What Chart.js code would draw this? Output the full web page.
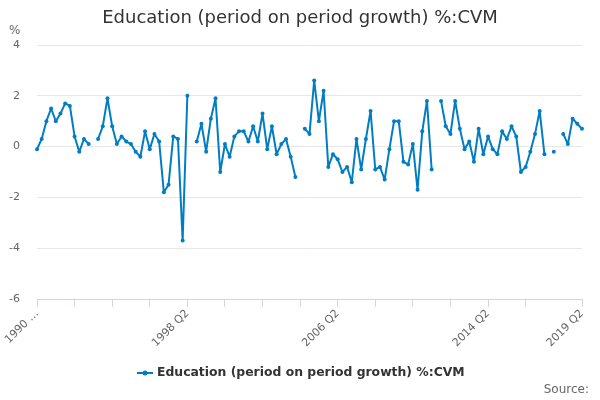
<!DOCTYPE html>
<html>
<head>
<meta charset="utf-8">
<script src="https://cdn.jsdelivr.net/npm/chart.js@4/dist/chart.umd.min.js"></script>
<style>
  html, body { margin: 0; padding: 0; background: #fff; }
  canvas { display: block; }
</style>
</head>
<body>
<canvas id="chart" width="600" height="400"></canvas>
<script>
// quarterly categories, 1990 Q2 .. 2019 Q2
const quarters = [];
for (let y = 1990, q = 2; y < 2019 || (y === 2019 && q <= 2); ) {
  quarters.push(y + ' Q' + q);
  q++;
  if (q > 4) { q = 1; y++; }
}

// null = no value published
const growth = [
  -0.1, 0.3, 1.0, 1.5, 1.0, 1.3, 1.7, 1.6, 0.4, -0.2, 0.3, 0.1, null,
  0.3, 0.8, 1.9, 0.8, 0.1, 0.4, 0.2, 0.1, -0.2, -0.4, 0.6, -0.1, 0.5, 0.2,
  -1.8, -1.5, 0.4, 0.3, -3.7, 2.0, null,
  0.2, 0.9, -0.2, 1.1, 1.9, -1.0, 0.1, -0.4, 0.4, 0.6, 0.6, 0.2, 0.8, 0.2,
  1.3, -0.1, 0.8, -0.3, 0.1, 0.3, -0.4, -1.2, null,
  0.7, 0.5, 2.6, 1.0, 2.2, -0.8, -0.3, -0.5, -1.0, -0.8, -1.4, 0.3, -0.9,
  0.3, 1.4, -0.9, -0.8, -1.3, -0.1, 1.0, 1.0, -0.6, -0.7, 0.1, -1.7, 0.6,
  1.8, -0.9, null,
  1.8, 0.8, 0.5, 1.8, 0.7, -0.1, 0.2, -0.6, 0.7, -0.3, 0.4, -0.1, -0.3,
  0.6, 0.3, 0.8, 0.4, -1.0, -0.8, -0.2, 0.5, 1.4, -0.3, null,
  -0.2, null,
  0.5, 0.1, 1.1, 0.9, 0.7
];

// which categories get a tick mark / a label
const tickMarks = [0, 8, 16, 24, 32, 40, 48, 56, 64, 72, 80, 88, 96, 104, 116];
const labelIndex = [0, 32, 64, 96, 116];
const labelText = ['1990 …', '1998 Q2', '2006 Q2', '2014 Q2', '2019 Q2'];

const seriesName = 'Education (period on period growth) %:CVM';
const blue = '#007dc3';
const font = 'DejaVu Sans';

const extras = {
  id: 'extras',
  afterDraw(chart) {
    const c = chart.ctx;
    c.save();
    c.textBaseline = 'middle';
    // title
    c.fillStyle = '#333';
    c.font = '18px "' + font + '"';
    c.textAlign = 'center';
    c.fillText('Education (period on period growth) %:CVM', 300, 18);
    // unit
    c.fillStyle = '#666';
    c.font = '12px "' + font + '"';
    c.textAlign = 'left';
    c.fillText('%', 9, 31);
    // legend
    c.strokeStyle = blue;
    c.lineWidth = 2;
    c.beginPath();
    c.moveTo(137, 373);
    c.lineTo(153, 373);
    c.stroke();
    c.fillStyle = blue;
    c.beginPath();
    c.arc(145, 373, 2.5, 0, Math.PI * 2);
    c.fill();
    c.fillStyle = '#333';
    c.font = 'bold 12.4px "' + font + '"';
    c.fillText(seriesName, 157, 373);
    // source
    c.fillStyle = '#666';
    c.font = '12px "' + font + '"';
    c.textAlign = 'right';
    c.fillText('Source:', 589, 390);
    c.restore();
  }
};

new Chart(document.getElementById('chart'), {
  type: 'line',
  data: {
    labels: quarters,
    datasets: [{
      label: seriesName,
      data: growth,
      borderColor: blue,
      backgroundColor: blue,
      borderWidth: 2,
      borderJoinStyle: 'round',
      borderCapStyle: 'round',
      pointRadius: 2,
      pointHoverRadius: 2,
      pointBorderWidth: 0,
      tension: 0,
      spanGaps: false
    }]
  },
  options: {
    responsive: false,
    animation: false,
    layout: { padding: { top: 45, right: 18, left: 0, bottom: 0 } },
    plugins: {
      legend: { display: false },
      tooltip: { enabled: false }
    },
    scales: {
      x: {
        offset: false,
        grid: {
          drawOnChartArea: false,
          tickLength: 8,
          color: ctx => tickMarks.includes(ctx.index) ? '#ccd6eb' : 'rgba(0,0,0,0)'
        },
        border: { color: '#ccd6eb', width: 1 },
        ticks: {
          autoSkip: false,
          maxRotation: 45,
          minRotation: 45,
          padding: 0,
          color: '#666',
          font: { family: font, size: 11 },
          callback: (v, i) => {
            const k = labelIndex.indexOf(i);
            return k >= 0 ? labelText[k] : '';
          }
        },
        afterFit: s => { s.height = 101; }
      },
      y: {
        min: -6,
        max: 4,
        grid: { color: '#e6e6e6', drawTicks: false },
        border: { display: false },
        ticks: {
          stepSize: 2,
          padding: 17,
          color: '#666',
          font: { family: font, size: 11 }
        },
        afterFit: s => { s.width = 37; }
      }
    }
  },
  plugins: [extras]
});
</script>
</body>
</html>
